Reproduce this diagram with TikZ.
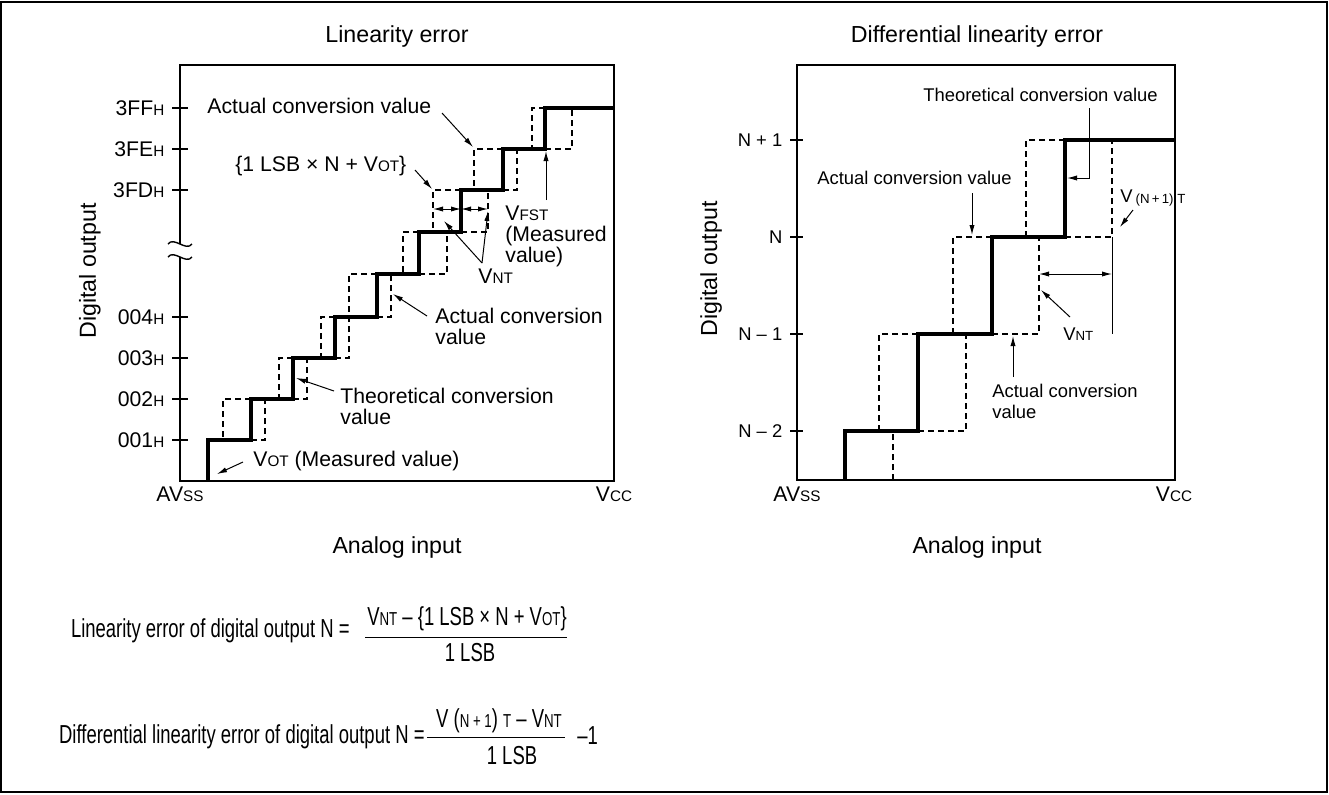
\documentclass[tikz,border=0pt]{standalone}
\usepackage{fontspec}
\setmainfont{Liberation Sans}
\newfontfamily\condfont{Liberation Sans}[FakeStretch=0.71]
\usepackage{tikz}
\usetikzlibrary{arrows.meta}

\makeatletter
\newcommand{\sx}[1]{{\@tempdima=\f@size pt\@tempdima=0.72\@tempdima
	\edef\sx@size{\strip@pt\@tempdima}\fontsize{\sx@size}{\sx@size}\selectfont #1}}
\makeatother

\begin{document}
\begin{tikzpicture}[x=0.5pt,y=-0.5pt]

	\tikzstyle frame lines=[line width=0.7pt];
	\tikzstyle thin lines=[line width=0.5pt];
	\tikzstyle ideal lines=[line width=1.6pt];
	\tikzstyle actual lines=[line width=1.2pt, dash pattern=on 3pt off 2pt];
	\tikzstyle pointer=[line width=0.5pt, -{Latex[length=5pt,width=2.6pt]}];
	\tikzstyle span=[line width=0.5pt, {Latex[length=5pt,width=2.6pt]}-{Latex[length=5pt,width=2.6pt]}];
	\tikzstyle note=[inner sep=0pt, font=\fontsize{10.6}{10.3}\selectfont];
	\tikzstyle small note=[inner sep=0pt, font=\fontsize{9.2}{10.4}\selectfont];
	\tikzstyle heading=[inner sep=0pt, font=\fontsize{11.6}{13}\selectfont];
	\tikzstyle formula=[inner sep=0pt, font=\condfont\fontsize{13}{15}\selectfont];

	\useasboundingbox (0,0) rectangle (1329,794);
	\draw[frame lines] (1,2) rectangle (1327,792);

	% linearity error
	\node[heading, anchor=base] (titleL) at (397,42) {Linearity error};
	\draw[frame lines] (180,244) -- (180,65) -- (614,65) -- (614,481) -- (180,481) -- (180,257);
	\draw[frame lines] (168,244) .. controls (174,236) and (186,252) .. (192,244);
	\draw[frame lines] (168,257) .. controls (174,249) and (186,265) .. (192,257);
		\foreach \y/\code [count=\i] in {440/001,399/002,358/003,317/004,190/3FD,149/3FE,108/3FF}
			\draw[frame lines] (172,\y) -- (188,\y) node[note, anchor=east] (tickL\i) at (165,\y) {\code\sx{H}};

	\draw[ideal lines] (208,481) |- (251,440) |- (293,399) |- (335,358) |- (377,317)
		|- (419,274) |- (461,232) |- (503,190) |- (545,149) |- (614,108);
		\foreach \xs/\xl/\xr/\yt/\yb in {251/223/265/399/440,293/279/307/358/399,335/321/349/317/358,
			377/349/391/274/317,419/403/447/232/274,461/433/488/190/232,503/474/517/149/190,545/532/572/108/149}
			\draw[actual lines] (\xs,\yt) -- (\xl,\yt) -- (\xl,\yb) (\xs,\yb) -- (\xr,\yb) -- (\xr,\yt);

	\coordinate (vl) at (433,209);
	\coordinate (vm) at (461,209);
	\coordinate (vr) at (488,209);
	\draw[span] (vl) -- (vm);
	\draw[span] (vm) -- (vr);

	\node[note, anchor=base west] (actTop) at (207,113) {Actual conversion value};
	\node[note, anchor=base west] (ideal) at (235,171) {\{1 LSB \texttimes\ N + V\sx{OT}\}};
	\node[note, anchor=north west, align=left] (vfst) at (505,206) {V\sx{FST}\\(Measured\\value)};
	\node[note, anchor=base west] (vntL) at (478,283) {V\sx{NT}};
	\node[note, anchor=north west, align=left] (actLow) at (435,308) {Actual conversion\\value};
	\node[note, anchor=north west, align=left] (theoL) at (340,388) {Theoretical conversion\\value};
	\node[note, anchor=base west] (vot) at (253,466) {V\sx{OT} (Measured value)};

	\coordinate (pA1) at (442,113);  \coordinate (qA1) at (473,147);
	\coordinate (pI) at (415,170);   \coordinate (qI) at (432,189);
	\coordinate (pF) at (546,200);   \coordinate (qF) at (546,151);
	\coordinate (pN) at (482,263);   \coordinate (qN1) at (444,221);  \coordinate (qN2) at (488,211);
	\coordinate (pA2) at (427,316);  \coordinate (qA2) at (393,294);
	\coordinate (pT) at (334,391);   \coordinate (qT) at (296,378);
	\coordinate (pO) at (243,462);   \coordinate (qO) at (217,474);
	\draw[pointer] (pA1) -- (qA1);
	\draw[pointer] (pI) -- (qI);
	\draw[pointer] (pF) -- (qF);
	\draw[pointer] (pN) -- (qN1);
	\draw[pointer] (pN) -- (qN2);
	\draw[pointer] (pA2) -- (qA2);
	\draw[pointer] (pT) -- (qT);
	\draw[pointer] (pO) -- (qO);

	\node[heading, rotate=90] (axisYL) at (90,271) {Digital output};
	\node[note, anchor=base] (avssL) at (180,501) {AV\sx{SS}};
	\node[note, anchor=base] (vccL) at (614,501) {V\sx{CC}};
	\node[heading, anchor=base] (axisXL) at (397,553) {Analog input};

	% differential linearity error
	\node[heading, anchor=base] (titleR) at (977,42) {Differential linearity error};
	\draw[frame lines] (797,65) rectangle (1175,480);
		\foreach \y/\code [count=\i] in {431/N \textendash\ 2,334/N \textendash\ 1,237/N,140/N + 1}
			\draw[frame lines] (790,\y) -- (803,\y) node[small note, anchor=east] (tickR\i) at (783,\y) {\code};

	\draw[ideal lines] (845,480) |- (918,431) |- (992,334) |- (1065,237) |- (1175,140);
	\draw[actual lines] (893,480) -- (893,431);
		\foreach \xs/\xl/\xr/\yt/\yb in {918/879/966/334/431,992/953/1039/237/334,1065/1026/1112/140/237}
			\draw[actual lines] (\xs,\yt) -- (\xl,\yt) -- (\xl,\yb) (\xs,\yb) -- (\xr,\yb) -- (\xr,\yt);

	\coordinate (wl) at (1039,274);
	\coordinate (wr) at (1112,274);
	\draw[thin lines] (1112,237) -- (1112,334);
	\draw[span] (wl) -- (wr);

	\node[small note, anchor=base west] (theoR) at (923,101) {Theoretical conversion value};
	\node[small note, anchor=base west] (actR) at (817,184) {Actual conversion value};
	\node[small note, anchor=base west] (vnext) at (1120,202) {V\,\raisebox{-0.8pt}{\sx{(N\,+\,1)\ T}}};
	\node[small note, anchor=base west] (vntR) at (1063,340) {V\sx{NT}};
	\node[small note, anchor=north west, align=left] (actR2) at (992,384) {Actual conversion\\value};

	\coordinate (pTR) at (1089,108);  \coordinate (qTR) at (1067,178);
	\coordinate (pAR) at (972,193);   \coordinate (qAR) at (972,235);
	\coordinate (pV) at (1133,210);   \coordinate (qV) at (1120,227);
	\coordinate (pVR) at (1070,317);  \coordinate (qVR) at (1041,290);
	\coordinate (pAR2) at (1013,377); \coordinate (qAR2) at (1013,336);
	\draw[pointer] (pTR) |- (qTR);
	\draw[pointer] (pAR) -- (qAR);
	\draw[pointer] (pV) -- (qV);
	\draw[pointer] (pVR) -- (qVR);
	\draw[pointer] (pAR2) -- (qAR2);

	\node[heading, rotate=90] (axisYR) at (711,269) {Digital output};
	\node[note, anchor=base] (avssR) at (797,501) {AV\sx{SS}};
	\node[note, anchor=base] (vccR) at (1174,501) {V\sx{CC}};
	\node[heading, anchor=base] (axisXR) at (977,553) {Analog input};

	% formulas
	\node[formula, anchor=base east] (linTxt) at (350,637) {Linearity error of digital output N =};
	\node[formula, anchor=base] (linNum) at (467,625) {V\sx{NT} \textendash\ \{1 LSB \texttimes\ N + V\sx{OT}\}};
	\draw[thin lines] (365,637) -- (567,637);
	\node[formula, anchor=base] (linDen) at (470,661) {1 LSB};

	\node[formula, anchor=base east] (difTxt) at (425,743) {Differential linearity error of digital output N =};
	\node[formula, anchor=base] (difNum) at (499,727) {V (\sx{N + 1}) \sx{T} \textendash\ V\sx{NT}};
	\draw[thin lines] (427,737) -- (565,737);
	\node[formula, anchor=base] (difDen) at (512,764) {1 LSB};
	\node[formula, anchor=base west] (difOne) at (577,744) {\textendash 1};

\end{tikzpicture}
\end{document}
